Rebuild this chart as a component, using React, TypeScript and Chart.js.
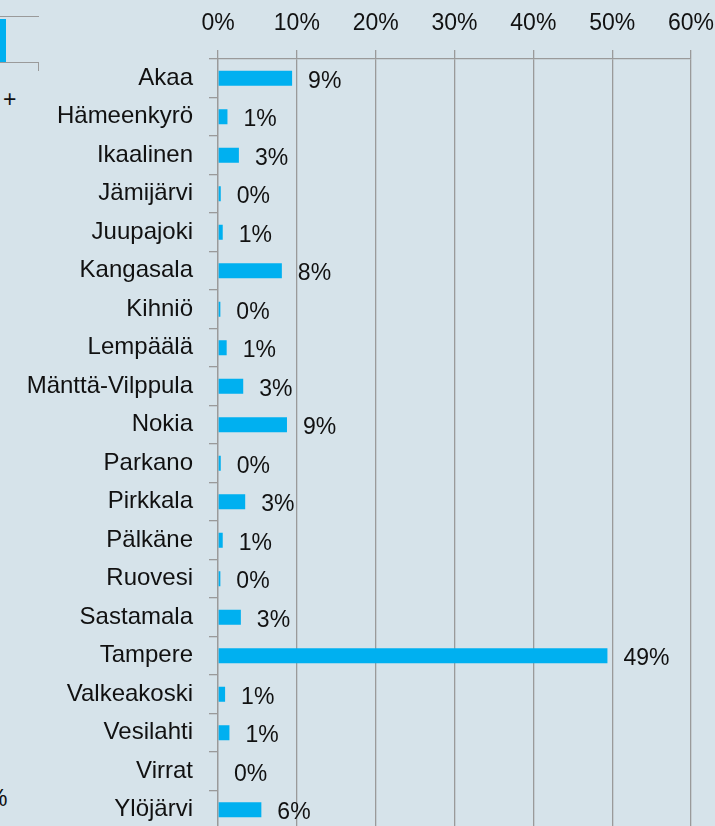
import React, { useEffect, useRef } from "react";
import { Chart, registerables } from "chart.js";

Chart.register(...registerables);

const categories = [
  "Akaa",
  "Hämeenkyrö",
  "Ikaalinen",
  "Jämijärvi",
  "Juupajoki",
  "Kangasala",
  "Kihniö",
  "Lempäälä",
  "Mänttä-Vilppula",
  "Nokia",
  "Parkano",
  "Pirkkala",
  "Pälkäne",
  "Ruovesi",
  "Sastamala",
  "Tampere",
  "Valkeakoski",
  "Vesilahti",
  "Virrat",
  "Ylöjärvi",
];

const shares = [
  9.4, 1.2, 2.65, 0.35, 0.6, 8.1, 0.3, 1.1, 3.2, 8.75, 0.35, 3.45, 0.6, 0.3,
  2.9, 49.4, 0.9, 1.45, 0, 5.5,
];

const axisMin = 0;
const axisMax = 60;
const axisStep = 10;

const FONT = '"Liberation Sans", Arial, sans-serif';
const BG = "#d6e3ea";
const BAR = "#00b0f0";
const GRID = "#9a9a9a";
const TEXT = "#111111";

const valueLabels = {
  id: "valueLabels",
  afterDatasetsDraw(chart: any) {
    const ctx = chart.ctx;
    const meta = chart.getDatasetMeta(0);
    const data = chart.data.datasets[0].data as number[];
    ctx.save();
    ctx.font = `23px ${FONT}`;
    ctx.fillStyle = TEXT;
    ctx.textAlign = "left";
    ctx.textBaseline = "middle";
    meta.data.forEach((bar: any, i: number) => {
      const v = data[i];
      ctx.fillText(`${Math.round(v)}%`, bar.x + 16, bar.y + 3);
    });
    ctx.restore();
  },
};

function BarChart() {
  const ref = useRef<HTMLCanvasElement | null>(null);
  useEffect(() => {
    if (!ref.current) return;
    const chart = new Chart(ref.current, {
      type: "bar",
      data: {
        labels: categories,
        datasets: [
          {
            data: shares,
            backgroundColor: BAR,
            borderWidth: 0,
            barPercentage: 0.39,
            categoryPercentage: 1,
          },
        ],
      },
      options: {
        indexAxis: "y",
        responsive: false,
        animation: false,
        devicePixelRatio: 1,
        layout: { padding: { left: 0, right: 24, top: 0, bottom: 0 } },
        plugins: {
          legend: { display: false },
          tooltip: { enabled: false },
          title: { display: false },
        },
        scales: {
          x: {
            position: "top",
            min: axisMin,
            max: axisMax,
            ticks: {
              stepSize: axisStep,
              callback: (v: any) => `${v}%`,
              font: { family: FONT, size: 23 },
              color: TEXT,
              padding: 13,
              maxRotation: 0,
              autoSkip: false,
            },
            grid: {
              color: GRID,
              lineWidth: 1.3,
              tickLength: 9,
              drawTicks: true,
            },
            border: { display: true, color: GRID, width: 1.3 },
            afterFit: (scale: any) => {
              scale.height = 59;
              scale.paddingLeft = 0;
              scale.paddingRight = 0;
            },
          },
          y: {
            type: "category",
            ticks: {
              font: { family: FONT, size: 24 },
              color: TEXT,
              padding: 16,
              autoSkip: false,
            },
            grid: {
              offset: true,
              drawOnChartArea: false,
              color: GRID,
              lineWidth: 1.3,
              tickLength: 9,
            },
            border: { display: true, color: GRID, width: 1.3 },
            afterFit: (scale: any) => {
              scale.width = 218;
              scale.paddingTop = 0;
              scale.paddingBottom = 0;
            },
          },
        },
      },
      plugins: [valueLabels],
    } as any);
    return () => chart.destroy();
  }, []);
  return (
    <canvas
      ref={ref}
      width={715}
      height={829}
      style={{ position: "absolute", left: 0, top: 0, width: 715, height: 829 }}
    />
  );
}

const deco = (style: React.CSSProperties): React.CSSProperties => ({
  position: "absolute",
  ...style,
});

export default function App() {
  return (
    <div
      style={{
        position: "fixed",
        left: 0,
        top: 0,
        width: 715,
        height: 826,
        overflow: "hidden",
        background: BG,
      }}
    >
      <div style={deco({ left: 0, top: 16, width: 39, height: 1.3, background: GRID })} />
      <div style={deco({ left: 0, top: 19, width: 6, height: 43, background: BAR })} />
      <div style={deco({ left: 0, top: 62, width: 39, height: 1.3, background: GRID })} />
      <div style={deco({ left: 38, top: 62, width: 1.3, height: 9, background: GRID })} />
      <span
        style={deco({
          left: 3,
          top: 88,
          font: `23px ${FONT}`,
          lineHeight: 1,
          color: TEXT,
          whiteSpace: "nowrap",
        })}
      >
        +
      </span>
      <span
        style={deco({
          left: -13,
          top: 787,
          font: `23px ${FONT}`,
          lineHeight: 1,
          color: TEXT,
          whiteSpace: "nowrap",
        })}
      >
        %
      </span>
      <BarChart />
    </div>
  );
}
